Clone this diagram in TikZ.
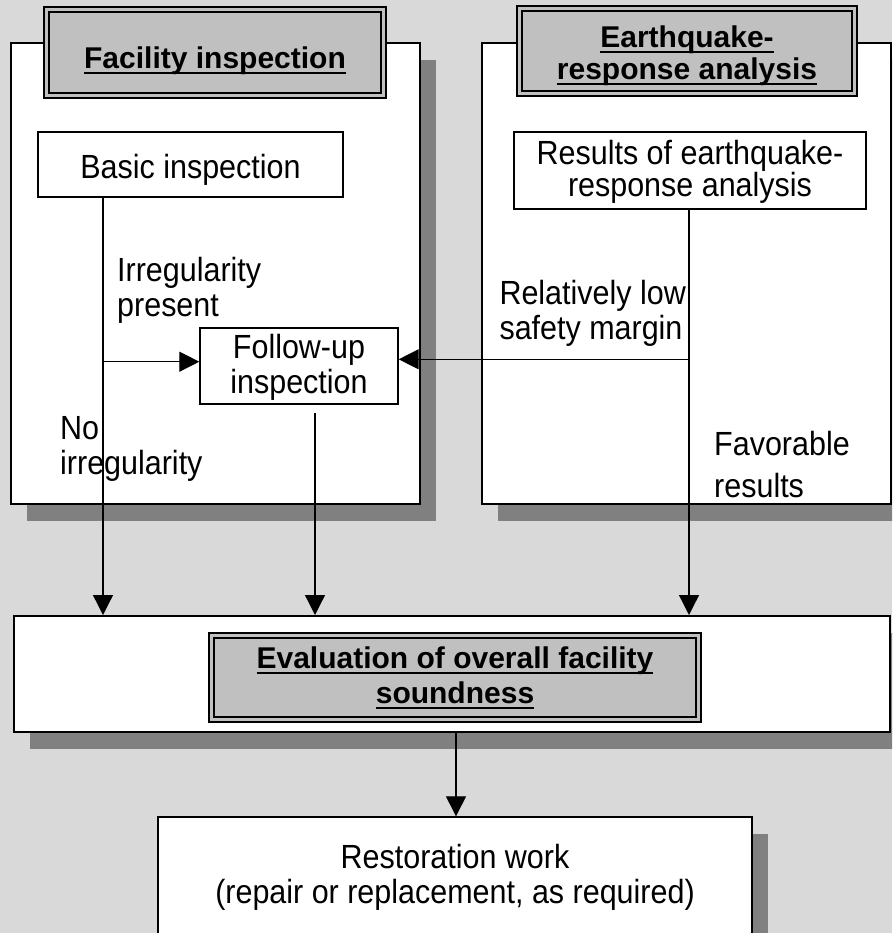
\documentclass[tikz,border=0pt]{standalone}
\usepackage{fontspec}
\setmainfont{Liberation Sans}
\newfontfamily\regf[FakeStretch=0.91]{Liberation Sans}
\usetikzlibrary{arrows.meta,shadows}
\definecolor{bg}{HTML}{D9D9D9}
\definecolor{shgray}{HTML}{808080}
\definecolor{tgray}{HTML}{C0C0C0}
\newcommand\ulx[1]{\setbox0=\hbox{#1}\rlap{\rule[-5.5pt]{\wd0}{2pt}}\box0}
\begin{document}
\begin{tikzpicture}[x=1pt,y=-1pt,
  shad/.style={drop shadow={shadow xshift=16pt,shadow yshift=-17pt,fill=shgray,opacity=1}},
  bigbox/.style={draw,line width=2pt,fill=white,inner sep=0pt,shad},
  box/.style={draw,line width=1.4pt,fill=white,inner sep=0pt,align=center,anchor=base,font=\regf\fontsize{33.5}{35}\selectfont},
  titlebox/.style={draw,line width=2.2pt,double=tgray,double distance=2.5pt,fill=tgray,inner sep=0pt,align=center,anchor=base,font=\bfseries\fontsize{30}{35}\selectfont},
  lbl/.style={inner sep=0pt,align=left,anchor=base west,font=\regf\fontsize{33.5}{35}\selectfont},
  conn/.style={line width=1.3pt},
  arr/.style={conn,-{Triangle[length=20pt,width=20pt]}}]
\useasboundingbox (0,0) rectangle (892,933);
\clip (0,0) rectangle (892,933);
\fill[bg] (0,0) rectangle (892,933);

% containers
\node[bigbox,minimum width=409pt,minimum height=461pt] (fi) at (215.5,273.5) {};
\node[bigbox,minimum width=409pt,minimum height=461pt] (eq) at (686.5,273.5) {};
\node[bigbox,minimum width=876pt,minimum height=116pt] (ev) at (452,674) {};

% titles (anchor = baseline of last line)
\node[titlebox,minimum width=337pt,text height=58.8pt,text depth=27.2pt] (fit) at (215,68.3) {\ulx{Facility inspection}};
\node[titlebox,minimum width=335pt,text height=71.5pt,text depth=13.5pt,font=\bfseries\fontsize{30}{32}\selectfont] (eqt) at (687,80) {\ulx{Earthquake-}\\\ulx{response analysis}};
\node[titlebox,minimum width=487pt,text height=67.5pt,text depth=16.5pt] (evt) at (455,703) {\ulx{Evaluation of overall facility}\\\ulx{soundness}};

% boxes
\node[box,minimum width=305pt,text height=46.3pt,text depth=18.7pt] (basic) at (190.5,178.3) {Basic inspection};
\node[box,minimum width=352pt,text height=64.5pt,text depth=12.5pt,font=\regf\fontsize{33.5}{30}\selectfont] (res) at (690,196.5) {Results of earthquake-\\response analysis};
\node[box,minimum width=198pt,text height=65.3pt,text depth=10.7pt] (fu) at (299,393.3) {Follow-up\\inspection};
\node[box,minimum width=594pt,text height=86pt,text depth=57pt,shad] (rest) at (455,903) {Restoration work\\(repair or replacement, as required)};

% labels
\node[lbl] (irr) at (117,316.7) {Irregularity\\present};
\node[lbl] (noirr) at (60,474) {No\\irregularity};
\node[lbl] (low) at (499.3,339.3) {Relatively low\\safety margin};
\node[lbl,font=\regf\fontsize{33.5}{42}\selectfont] (fav) at (714,497.3) {Favorable\\results};

% connectors
\coordinate (xa) at (103,0);
\coordinate (xb) at (689,0);
\coordinate (xd) at (456,0);
\coordinate (ya) at (0,361.7);
\coordinate (yb) at (0,359.3);
\coordinate (fuo) at (315,413.3);

\draw[arr] (basic.south -| xa) -- (ev.north -| xa);
\draw[arr] (xa |- ya) -- (fu.west |- ya);
\draw[arr] (res.south -| xb) -- (ev.north -| xb);
\draw[arr] (xb |- yb) -- (fu.east |- yb);
\draw[arr] (fuo) -- (ev.north -| fuo);
\draw[arr] (ev.south -| xd) -- (rest.north -| xd);
\end{tikzpicture}
\end{document}
